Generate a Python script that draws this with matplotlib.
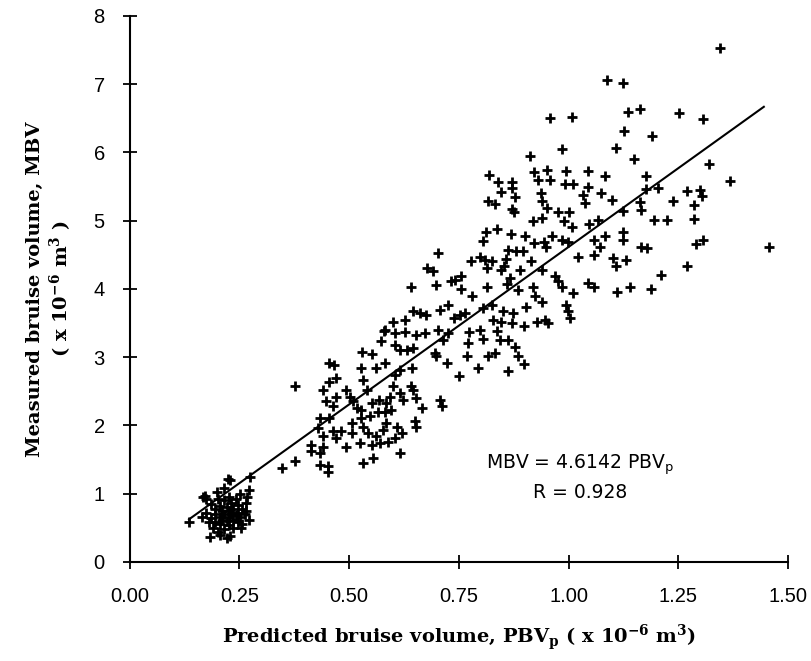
import numpy as np
import matplotlib
matplotlib.use("Agg")
import matplotlib.pyplot as plt

plt.rcParams['mathtext.fontset'] = 'custom'
plt.rcParams['mathtext.rm'] = 'DejaVu Serif:bold'
plt.rcParams['mathtext.bf'] = 'DejaVu Serif:bold'
plt.rcParams['mathtext.sf'] = 'DejaVu Sans'

# puntos: (PBVp, MBV)
cluster = np.array([
    (0.136, 0.59), (0.183, 0.37), (0.228, 0.38), (0.254, 0.49), (0.171, 0.96), (0.198, 1.03),
    (0.266, 0.86), (0.266, 0.74), (0.164, 0.66), (0.174, 0.72), (0.180, 0.58), (0.185, 0.85),
    (0.185, 0.64), (0.190, 0.50), (0.195, 0.78), (0.195, 0.70), (0.195, 0.58), (0.200, 0.92),
    (0.200, 0.44), (0.205, 0.82), (0.205, 0.66), (0.205, 0.55), (0.210, 0.75), (0.210, 0.62),
    (0.215, 0.90), (0.215, 0.70), (0.215, 0.48), (0.221, 0.80), (0.221, 0.60), (0.226, 0.95),
    (0.226, 0.74), (0.226, 0.66), (0.226, 0.54), (0.231, 0.86), (0.231, 0.70), (0.236, 0.78),
    (0.236, 0.62), (0.236, 0.50), (0.241, 0.92), (0.241, 0.68), (0.246, 0.84), (0.246, 0.72),
    (0.246, 0.58), (0.251, 1.00), (0.251, 0.65), (0.256, 0.78), (0.256, 0.55), (0.262, 0.70),
    (0.267, 0.95), (0.215, 1.08), (0.224, 1.22), (0.272, 0.62), (0.174, 0.92), (0.205, 0.40),
    (0.221, 0.35), (0.167, 0.95), (0.274, 1.24), (0.271, 1.05), (0.228, 1.20),
])

lower = np.array([
    (0.572, 3.23), (0.529, 3.07), (0.551, 3.05), (0.526, 2.84), (0.562, 2.84), (0.455, 2.91),
    (0.465, 2.89), (0.376, 2.57), (0.471, 2.69), (0.455, 2.63), (0.441, 2.52), (0.470, 2.42),
    (0.493, 2.52), (0.532, 2.67), (0.540, 2.52), (0.502, 2.42), (0.509, 2.35), (0.448, 2.35),
    (0.464, 2.28), (0.517, 2.25), (0.528, 2.23), (0.551, 2.33), (0.568, 2.37), (0.566, 2.20),
    (0.547, 2.13), (0.528, 2.11), (0.506, 2.03), (0.433, 2.11), (0.455, 2.11), (0.430, 1.96),
    (0.464, 1.91), (0.482, 1.91), (0.441, 1.84), (0.471, 1.81), (0.506, 1.89), (0.532, 1.98),
    (0.544, 1.89), (0.562, 1.84), (0.524, 1.74), (0.551, 1.71), (0.570, 1.74), (0.493, 1.69),
    (0.414, 1.71), (0.441, 1.69), (0.412, 1.63), (0.433, 1.59), (0.376, 1.48), (0.346, 1.37),
    (0.433, 1.42), (0.452, 1.40), (0.452, 1.32), (0.532, 1.45), (0.555, 1.52),
    (0.579, 3.38), (0.582, 2.91), (0.615, 2.81), (0.604, 2.74), (0.600, 2.57), (0.642, 2.57),
    (0.646, 2.52), (0.615, 2.47), (0.623, 2.37), (0.593, 2.42), (0.585, 2.33), (0.653, 2.40),
    (0.665, 2.25), (0.707, 2.37), (0.711, 2.29), (0.582, 2.20), (0.596, 2.23), (0.585, 2.03),
    (0.578, 1.93), (0.608, 1.98), (0.649, 2.06), (0.653, 1.98), (0.620, 1.89), (0.604, 1.81),
    (0.589, 1.76), (0.615, 1.59),
])

middle = np.array([
    (0.995, 3.77), (0.999, 3.67), (1.003, 3.57), (0.927, 3.52), (0.946, 3.55), (0.954, 3.50),
    (0.939, 3.81), (0.902, 3.74), (0.899, 3.46), (0.874, 3.64), (0.870, 3.50), (0.851, 3.67),
    (0.847, 3.52), (0.836, 3.38), (0.843, 3.25), (0.863, 3.25), (0.878, 3.15), (0.885, 3.01),
    (0.899, 2.90), (0.863, 2.79), (0.832, 3.06), (0.817, 3.01), (0.794, 2.84), (0.828, 3.55),
    (0.825, 3.77), (0.805, 3.72), (0.798, 3.40), (0.805, 3.26), (0.773, 3.37), (0.771, 3.20),
    (0.769, 3.01), (0.752, 3.62), (0.763, 3.64), (0.738, 3.57), (0.726, 3.77), (0.707, 3.69),
    (0.726, 3.35), (0.714, 3.25), (0.722, 2.91), (0.750, 2.73), (0.703, 3.40), (0.695, 3.06),
    (0.699, 3.01), (0.676, 3.62), (0.661, 3.64), (0.646, 3.67), (0.673, 3.35), (0.653, 3.33),
    (0.646, 3.13), (0.631, 3.11), (0.643, 2.84), (0.627, 3.55), (0.600, 3.52), (0.604, 3.35),
    (0.627, 3.37), (0.604, 3.18), (0.615, 3.11), (0.582, 3.40),
])

upper = np.array([
    (0.958, 6.50), (1.008, 6.52), (0.986, 6.05), (0.912, 5.94), (0.819, 5.67), (0.839, 5.57),
    (0.870, 5.57), (0.872, 5.48), (0.847, 5.42), (0.878, 5.35), (0.817, 5.29), (0.832, 5.24),
    (0.870, 5.17), (0.875, 5.13), (0.921, 5.71), (0.950, 5.74), (0.957, 5.60), (0.930, 5.60),
    (0.994, 5.73), (0.993, 5.53), (1.009, 5.53), (0.937, 5.40), (0.939, 5.29), (0.950, 5.18),
    (0.977, 5.13), (1.001, 5.12), (0.918, 4.99), (0.940, 5.04), (0.989, 4.99), (1.008, 4.90),
    (0.838, 4.87), (0.811, 4.83), (0.805, 4.70), (0.869, 4.80), (0.901, 4.78), (0.921, 4.67),
    (0.945, 4.69), (0.948, 4.62), (0.963, 4.77), (0.984, 4.72), (0.999, 4.68), (0.861, 4.57),
    (0.881, 4.56), (0.896, 4.55), (0.914, 4.41), (1.022, 4.47), (0.702, 4.53), (0.678, 4.30),
    (0.691, 4.26), (0.642, 4.03), (0.699, 4.05), (0.733, 4.12), (0.741, 4.13), (0.756, 4.19),
    (0.756, 4.00), (0.778, 4.41), (0.799, 4.46), (0.810, 4.42), (0.825, 4.41), (0.813, 4.31),
    (0.857, 4.44), (0.854, 4.33), (0.847, 4.28), (0.889, 4.28), (0.813, 4.03), (0.866, 4.16),
    (0.859, 4.07), (0.940, 4.28), (0.968, 4.19), (0.977, 4.11), (0.984, 4.03), (1.010, 3.94),
    (0.779, 3.90), (0.885, 3.98), (0.919, 4.03), (0.923, 3.89),
])

right = np.array([
    (1.344, 7.53), (1.088, 7.06), (1.124, 7.01), (1.136, 6.59), (1.163, 6.63), (1.252, 6.58),
    (1.307, 6.49), (1.126, 6.32), (1.191, 6.24), (1.109, 6.07), (1.149, 5.91), (1.321, 5.83),
    (1.368, 5.58), (1.457, 4.62), (1.044, 5.73), (1.083, 5.66), (1.177, 5.66), (1.044, 5.49),
    (1.033, 5.38), (1.037, 5.26), (1.073, 5.41), (1.098, 5.30), (1.177, 5.46), (1.203, 5.48),
    (1.162, 5.27), (1.166, 5.16), (1.123, 5.14), (1.238, 5.29), (1.270, 5.44), (1.300, 5.45),
    (1.303, 5.36), (1.285, 5.23), (1.285, 5.03), (1.194, 5.01), (1.224, 5.01), (1.047, 4.95),
    (1.066, 5.01), (1.124, 4.84), (1.124, 4.71), (1.057, 4.72), (1.083, 4.78), (1.071, 4.62),
    (1.057, 4.50), (1.166, 4.62), (1.178, 4.60), (1.291, 4.66), (1.306, 4.71), (1.101, 4.45),
    (1.107, 4.34), (1.130, 4.43), (1.270, 4.33), (1.211, 4.20), (1.044, 4.09), (1.058, 4.02),
    (1.111, 3.95), (1.140, 4.03), (1.187, 4.00),
])

puntos = np.vstack([cluster, lower, middle, upper, right])
pbv = puntos[:, 0]
mbv = puntos[:, 1]

pendiente = 4.6142
recta_x = np.array([0.135, 1.445])

fig = plt.figure(figsize=(8.11, 6.61), dpi=100)
ax = fig.add_axes([0.160, 0.150, 0.8116, 0.826])

ax.plot(pbv, mbv, linestyle='none', marker='+', color='black', markersize=7, markeredgewidth=2)
ax.plot(recta_x, pendiente * recta_x, color='black', linewidth=1.5)

ax.set_xlim(0, 1.5)
ax.set_ylim(0, 8)
ax.set_xticks([0, 0.25, 0.5, 0.75, 1.0, 1.25, 1.5])
ax.set_xticklabels(['0.00', '0.25', '0.50', '0.75', '1.00', '1.25', '1.50'])
ax.set_yticks(range(9))
for s in ['top', 'right']:
    ax.spines[s].set_visible(False)
for s in ['left', 'bottom']:
    ax.spines[s].set_linewidth(1.5)
ax.tick_params(direction='inout', length=10, width=1.3, labelsize=14.5)
ax.tick_params(axis='x', pad=13)
ax.tick_params(axis='y', pad=13)
for lab in ax.get_xticklabels() + ax.get_yticklabels():
    lab.set_fontfamily('Liberation Sans')

ax.text(1.026, 1.42, r'MBV = 4.6142 PBV$_\mathsf{p}$', ha='center', va='center',
        fontsize=13.5, family='DejaVu Sans')
ax.text(1.026, 1.01, 'R = 0.928', ha='center', va='center', fontsize=13.5, family='DejaVu Sans')

ax.set_xlabel(r'Predicted bruise volume, PBV$_\mathrm{p}$ ( x 10$^{-6}$ m$^{3}$)',
              family='DejaVu Serif', fontweight='bold', fontsize=14, labelpad=12)
ax.set_ylabel('Measured bruise volume, MBV\n' + r'( x 10$^{-6}$ m$^{3}$ )',
              family='DejaVu Serif', fontweight='bold', fontsize=14, labelpad=14,
              linespacing=1.15)

fig.savefig('out.png', dpi=100)
